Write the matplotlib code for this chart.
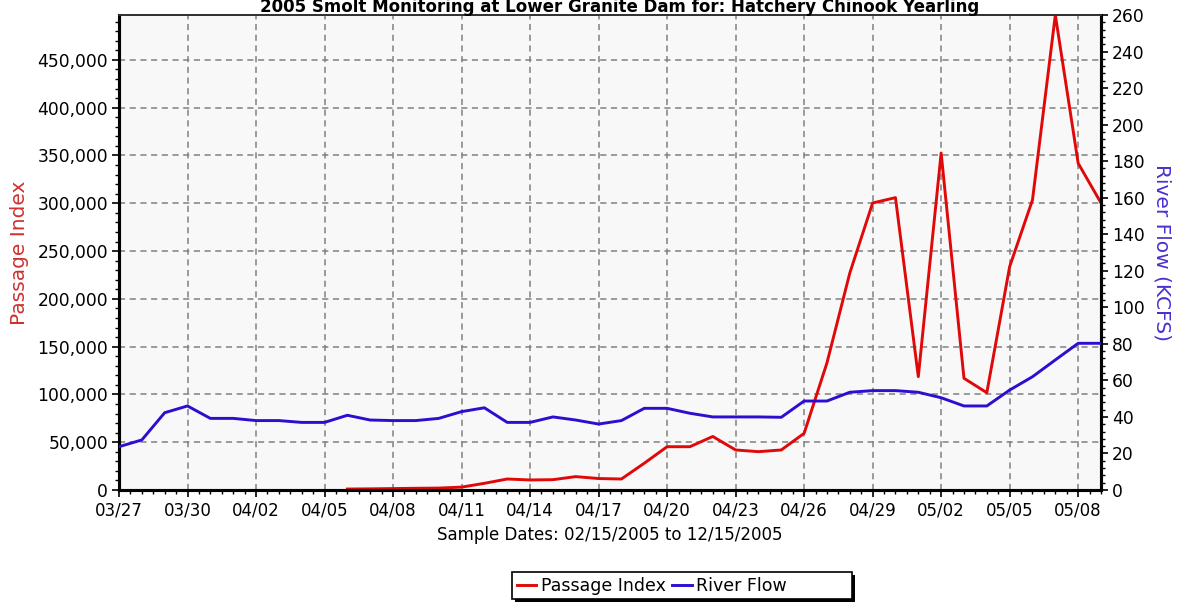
import matplotlib
matplotlib.use("Agg")
import matplotlib.pyplot as plt
import matplotlib.dates as mdates
import matplotlib.ticker as mticker
from matplotlib.patches import Rectangle
import numpy as np
import pandas as pd

plt.rcParams['font.family'] = ['DejaVu Sans']

title = "2005 Smolt Monitoring at Lower Granite Dam for: Hatchery Chinook Yearling"
x_label = "Sample Dates: 02/15/2005 to 12/15/2005"
left_label = "Passage Index"
right_label = "River Flow (KCFS)"

flow_start = "2005-03-27"
river_flow = [23.7, 27.4, 42.3, 46.0, 39.2, 39.2, 38.0, 38.0, 37.0, 37.0,
              40.9, 38.3, 38.0, 38.0, 39.2, 42.9, 45.0, 37.0, 37.0, 40.0,
              38.3, 36.1, 38.0, 44.7, 44.7, 42.0, 40.0, 40.0, 40.0, 39.8,
              48.7, 48.7, 53.5, 54.4, 54.4, 53.5, 50.5, 46.0, 46.0, 54.7,
              62.0, 71.2, 80.3, 80.3]

passage_start = "2005-04-06"
passage_index = [1000, 1200, 1500, 1800, 2000, 3000, 7000, 11500, 10500, 10800,
                 14000, 12000, 11500, 28000, 45300, 45300, 56000, 41900, 40100, 41900,
                 59300, 133000, 227000, 300300, 305900, 118600, 352600, 116900, 101800, 233700,
                 303500, 497000, 341900, 300300]

flow_dates = pd.date_range(flow_start, periods=len(river_flow), freq="D")
passage_dates = pd.date_range(passage_start, periods=len(passage_index), freq="D")

RED = "#e00808"
BLUE = "#2a0fd0"

W, H = 1180, 606
fig = plt.figure(figsize=(W / 100, H / 100), dpi=100)
ax = fig.add_axes([119/W, 1-490/H, (1101-119)/W, (490-15)/H])
ax2 = ax.twinx()

ax.set_facecolor("#f8f8f8")
ax.plot(passage_dates, passage_index, color=RED, lw=2.1, label="Passage Index", zorder=3)
ax2.plot(flow_dates, river_flow, color=BLUE, lw=2.1, label="River Flow", zorder=3)

ax.set_xlim(flow_dates[0], flow_dates[-1])
ax.set_ylim(0, 497000)
ax2.set_ylim(0, 260)

ax.xaxis.set_major_locator(mticker.FixedLocator(
    mdates.date2num(pd.date_range(flow_start, flow_dates[-1], freq="3D"))))
ax.xaxis.set_major_formatter(mdates.DateFormatter("%m/%d"))
ax.xaxis.set_minor_locator(mticker.MultipleLocator(0.5))

ax.yaxis.set_major_locator(mticker.MultipleLocator(50000))
ax.yaxis.set_minor_locator(mticker.MultipleLocator(10000))
ax.yaxis.set_major_formatter(mticker.FuncFormatter(lambda v, p: f"{int(v):,}"))
ax2.yaxis.set_major_locator(mticker.MultipleLocator(20))
ax2.yaxis.set_minor_locator(mticker.MultipleLocator(4))

ax.grid(True, which="major", color="#808080", linestyle=(0, (4, 3)), linewidth=1.1)
ax.set_axisbelow(True)

for a in (ax, ax2):
    a.tick_params(which="major", length=5, width=1.2, labelsize=12.3, pad=3)
    a.tick_params(which="minor", length=3, width=1.0)
    for s in ("left", "right", "bottom"):
        a.spines[s].set_linewidth(2.2)
        a.spines[s].set_color("black")
    a.spines["top"].set_linewidth(1.3)
    a.spines["top"].set_color("#333333")
ax.tick_params(axis="x", labelsize=12)

ax.set_xlabel(x_label, fontsize=12, labelpad=5)
ax.set_ylabel(left_label, fontsize=14.5, color="#d03030")
ax.yaxis.set_label_coords(-0.092, 0.5)
ax2.set_ylabel(right_label, fontsize=14.5, color="#4b30d0", rotation=270, va="bottom")
ax2.yaxis.set_label_coords(1.052, 0.5)

fig.text(0.525, 1 - 12/H, title, ha="center", va="baseline", fontsize=12, weight="bold")

# legend box with hard shadow
bx0, bx1, by0, by1 = 512, 852, 572, 599
fig.patches.append(Rectangle(((bx0 + 3) / W, 1 - (by1 + 3) / H), (bx1 - bx0) / W, (by1 - by0) / H,
                             transform=fig.transFigure, facecolor="black", edgecolor="none", zorder=1))
fig.patches.append(Rectangle((bx0 / W, 1 - by1 / H), (bx1 - bx0) / W, (by1 - by0) / H,
                             transform=fig.transFigure, facecolor="white", edgecolor="black",
                             linewidth=1.2, zorder=2))

h1, l1 = ax.get_legend_handles_labels()
h2, l2 = ax2.get_legend_handles_labels()
leg = fig.legend(h1 + h2, l1 + l2, loc="center left", bbox_to_anchor=(bx0 / W, 1 - 586 / H),
                 ncol=2, fontsize=12.5, handlelength=1.1, handletextpad=0.25,
                 columnspacing=0.4, borderpad=0.3, borderaxespad=0.0, frameon=False)
leg.set_zorder(3)

fig.savefig("out.png", dpi=100)
